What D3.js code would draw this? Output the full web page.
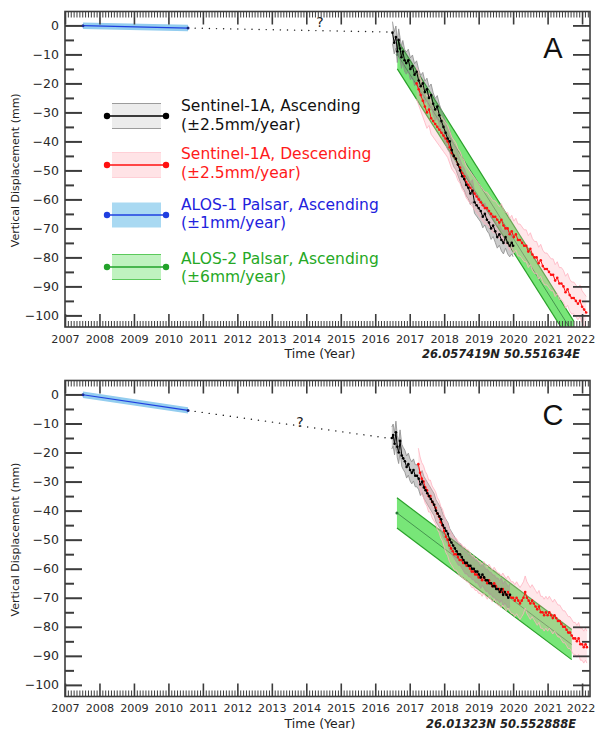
<!DOCTYPE html>
<html><head><meta charset="utf-8">
<script src="https://cdn.jsdelivr.net/npm/d3@7"></script>
<style>
body{margin:0;background:#fff;}
svg{display:block;font-family:"DejaVu Sans",Verdana,sans-serif;}
</style></head><body>
<svg id="chart" width="595" height="730"></svg>
<script>
// ---------- Panel A: 26.057419N 50.551634E ----------
const aAscYears = [2016.50,2016.55,2016.60,2016.64,2016.68,2016.72,2016.76,2016.80,2016.85,2016.90,2016.96,2017.02,2017.08,2017.14,2017.20,2017.26,2017.32,2017.38,2017.44,2017.50,2017.56,2017.62,2017.68,2017.74,2017.80,2017.86,2017.92,2017.98,2018.04,2018.10,2018.16,2018.22,2018.28,2018.34,2018.40,2018.46,2018.52,2018.58,2018.64,2018.70,2018.76,2018.82,2018.88,2018.94,2019.00,2019.06,2019.12,2019.18,2019.24,2019.30,2019.36,2019.42,2019.48,2019.54,2019.60,2019.66,2019.72,2019.78,2019.84,2019.90,2019.96,2020.00];
const aAscValues = [-2.5,-6,-4,-9,-5,-8,-11,-9,-12,-13,-12,-15,-14,-17,-16,-19,-21,-20,-23,-22,-25,-24,-27,-29,-28,-31,-33,-35,-37,-39,-40,-43,-45,-46,-48,-50,-52,-53,-55,-56,-58,-57,-61,-62,-63,-64,-66,-65,-67,-68,-70,-69,-71,-73,-72,-74,-75,-73,-75,-76,-75,-76];

const aDescYears = [2017.20,2017.26,2017.32,2017.38,2017.44,2017.50,2017.56,2017.62,2017.68,2017.74,2017.80,2017.86,2017.92,2017.98,2018.04,2018.10,2018.16,2018.22,2018.28,2018.34,2018.40,2018.46,2018.52,2018.58,2018.64,2018.70,2018.76,2018.82,2018.88,2018.94,2019.00,2019.06,2019.12,2019.18,2019.24,2019.30,2019.36,2019.42,2019.48,2019.54,2019.60,2019.66,2019.72,2019.78,2019.84,2019.90,2019.96,2020.02,2020.08,2020.14,2020.20,2020.26,2020.32,2020.38,2020.44,2020.50,2020.56,2020.62,2020.68,2020.74,2020.80,2020.86,2020.92,2020.98,2021.04,2021.10,2021.16,2021.22,2021.28,2021.34,2021.40,2021.46,2021.52,2021.58,2021.64,2021.70,2021.76,2021.82,2021.88,2021.94,2022.00,2022.06,2022.12];
const aDescValues = [-20,-22,-24,-26,-28,-30,-29,-32,-33,-34,-35,-36,-37,-38,-39,-40,-42,-44,-45,-46,-48,-49,-51,-52,-54,-55,-56,-57,-58,-59,-60,-61,-62,-63,-63,-64,-65,-66,-66,-67,-68,-67,-69,-70,-70,-72,-71,-73,-72,-74,-74,-75,-76,-76,-78,-77,-79,-80,-80,-82,-81,-83,-84,-84,-85,-86,-86,-88,-87,-89,-89,-90,-92,-91,-93,-94,-94,-95,-96,-95,-97,-98,-99];

const aAlos1Years = [2007.52, 2010.57];
const aAlos1Values = [-0.1, -0.9];
const aGapYears = [2010.57, 2016.48];
const aGapValues = [-0.9, -2.3];

const aAlos2Years  = [2016.64, 2021.76];
const aAlos2Upper  = [-5, -102];
const aAlos2Lower  = [-15, -111];
const aAlos2Center = [-10, -106.5];

// ---------- Panel C: 26.01323N 50.552888E ----------
const cAscYears = [2016.48,2016.52,2016.56,2016.60,2016.64,2016.68,2016.72,2016.77,2016.81,2016.86,2016.91,2016.96,2017.01,2017.06,2017.11,2017.16,2017.21,2017.26,2017.31,2017.36,2017.41,2017.46,2017.51,2017.56,2017.61,2017.66,2017.71,2017.76,2017.81,2017.86,2017.91,2017.96,2018.01,2018.06,2018.11,2018.16,2018.21,2018.26,2018.31,2018.36,2018.41,2018.46,2018.51,2018.56,2018.61,2018.66,2018.71,2018.76,2018.81,2018.86,2018.91,2018.96,2019.01,2019.06,2019.11,2019.16,2019.21,2019.26,2019.31,2019.36,2019.41,2019.46,2019.51,2019.56,2019.61,2019.66,2019.71,2019.76,2019.81,2019.86,2019.91];
const cAscValues = [-15,-14,-17,-13,-18,-20,-16,-21,-22,-23,-25,-24,-26,-27,-26,-28,-28,-29,-31,-30,-32,-33,-34,-35,-36,-37,-38,-40,-41,-42,-43,-45,-46,-47,-48,-50,-51,-52,-53,-54,-55,-55,-56,-57,-58,-58,-59,-59,-60,-60,-61,-61,-62,-63,-62,-63,-64,-64,-65,-65,-66,-66,-67,-67,-68,-67,-69,-68,-69,-70,-69];

const cDescYears = [2017.25,2017.30,2017.35,2017.40,2017.45,2017.50,2017.55,2017.60,2017.65,2017.70,2017.75,2017.80,2017.85,2017.90,2017.95,2018.00,2018.05,2018.10,2018.15,2018.20,2018.25,2018.30,2018.35,2018.40,2018.45,2018.50,2018.55,2018.60,2018.65,2018.70,2018.75,2018.80,2018.85,2018.90,2018.95,2019.00,2019.05,2019.10,2019.15,2019.20,2019.25,2019.30,2019.35,2019.40,2019.45,2019.50,2019.55,2019.60,2019.65,2019.70,2019.75,2019.80,2019.85,2019.90,2019.95,2020.00,2020.05,2020.10,2020.15,2020.20,2020.25,2020.30,2020.35,2020.40,2020.45,2020.50,2020.55,2020.60,2020.65,2020.70,2020.75,2020.80,2020.85,2020.90,2020.95,2021.00,2021.05,2021.10,2021.15,2021.20,2021.25,2021.30,2021.35,2021.40,2021.45,2021.50,2021.55,2021.60,2021.65,2021.70,2021.75,2021.80,2021.85,2021.90,2021.95,2022.00,2022.05,2022.10,2022.14];
const cDescValues = [-24,-27,-29,-30,-32,-33,-35,-35,-37,-38,-39,-41,-42,-44,-45,-47,-49,-50,-52,-53,-54,-55,-55,-56,-57,-57,-58,-58,-59,-59,-60,-61,-61,-62,-62,-63,-63,-64,-63,-64,-65,-64,-65,-66,-65,-66,-67,-67,-68,-67,-68,-69,-68,-69,-70,-70,-71,-70,-71,-72,-71,-70,-68,-70,-71,-72,-71,-72,-73,-74,-73,-75,-75,-76,-75,-76,-75,-76,-77,-76,-77,-78,-78,-79,-80,-80,-81,-82,-82,-83,-84,-84,-85,-84,-86,-86,-87,-86,-87];

const cAlos1Years = [2007.52, 2010.57];
const cAlos1Values = [-0.1, -5.5];
const cGapYears = [2010.57, 2016.46];
const cGapValues = [-5.5, -15.2];

const cAlos2Years  = [2016.63, 2021.70];
const cAlos2Upper  = [-35.6, -80.9];
const cAlos2Lower  = [-46.0, -91.3];
const cAlos2Center = [-40.8, -86.1];

// Uncertainty half-widths of the Sentinel-1A and ALOS-1 bands (mm)
const ascHalfWidth = 3.8;
const descHalfWidth = 5.5;
const alos1HalfWidth = 1.1;

// Axis ticks
const yearTicks = d3.range(2007, 2023);
const mmMajorTicks = d3.range(-100, 1, 10);
const mmMinorTicks = d3.range(-95, 1, 10);

const legendEntries = [
  {line1: "Sentinel-1A, Ascending",   line2: "(±2.5mm/year)", key: "asc"},
  {line1: "Sentinel-1A, Descending",  line2: "(±2.5mm/year)", key: "desc"},
  {line1: "ALOS-1 Palsar, Ascending", line2: "(±1mm/year)",   key: "alos1"},
  {line1: "ALOS-2 Palsar, Ascending", line2: "(±6mm/year)",   key: "alos2"}
];

// ---------- styles ----------
const style = {
  asc:   {line: "#000000", fill: "rgba(110,110,110,0.36)", edge: "#8c8c8c", legendFill: "#ececec", text: "#111111"},
  desc:  {line: "#ff1010", fill: "rgba(255,175,185,0.30)", edge: "#ffb3c0", legendFill: "#ffe3e6", text: "#ff1a1a"},
  alos1: {line: "#1f3fe0", fill: "#93cdef", edge: "#93cdef", legendFill: "#a9d9f2", text: "#2222dd"},
  alos2: {line: "#2a9a3a", fill: "#78e678", edge: "#2aa02a", legendFill: "#bff2bf", text: "#25a825"}
};
const axisColor = "#3c3c3c";

const svg = d3.select("#chart");
const x = d3.scaleLinear().domain([2007, 2022.23]).range([65, 590]);

const zip = (ys, vs) => ys.map((t, i) => ({t, v: vs[i]}));

const panels = [
  {top: 11.5, bottom: 327, label: "A", coord: "26.057419N  50.551634E",
   asc: zip(aAscYears, aAscValues), desc: zip(aDescYears, aDescValues),
   alos1: zip(aAlos1Years, aAlos1Values), gap: zip(aGapYears, aGapValues),
   alos2: {years: aAlos2Years, upper: aAlos2Upper, lower: aAlos2Lower, center: aAlos2Center},
   qx: 320, qy: 27, labelBase: 58, legend: true},
  {top: 380.5, bottom: 696.5, label: "C", coord: "26.01323N  50.552888E",
   asc: zip(cAscYears, cAscValues), desc: zip(cDescYears, cDescValues),
   alos1: zip(cAlos1Years, cAlos1Values), gap: zip(cGapYears, cGapValues),
   alos2: {years: cAlos2Years, upper: cAlos2Upper, lower: cAlos2Lower, center: cAlos2Center},
   qx: 300, qy: 427, labelBase: 425, legend: false}
];

panels.forEach((p, pi) => {
  const y = d3.scaleLinear().domain([-104, 4.8]).range([p.bottom, p.top]);
  const g = svg.append("g");
  const clipId = "clip" + pi;
  svg.append("clipPath").attr("id", clipId).append("rect")
    .attr("x", 65).attr("y", p.top).attr("width", 525).attr("height", p.bottom - p.top);
  const plot = g.append("g").attr("clip-path", `url(#${clipId})`);

  const line = d3.line().x(d => x(d.t)).y(d => y(d.v));

  // ALOS-2 band
  const a2 = p.alos2;
  const upperPts = a2.years.map((t, i) => [x(t), y(a2.upper[i])]);
  const lowerPts = a2.years.map((t, i) => [x(t), y(a2.lower[i])]).reverse();
  plot.append("path").attr("d", "M" + upperPts.concat(lowerPts).join("L") + "Z")
    .attr("fill", style.alos2.fill).attr("stroke", "none");
  [a2.upper, a2.lower].forEach(arr => {
    plot.append("path").attr("d", line(zip(a2.years, arr)))
      .attr("fill", "none").attr("stroke", style.alos2.edge).attr("stroke-width", 1.2);
  });
  plot.append("path").attr("d", line(zip(a2.years, a2.center)))
    .attr("fill", "none").attr("stroke", "#3f8a4a").attr("stroke-width", 0.9);
  plot.append("circle").attr("cx", x(a2.years[0])).attr("cy", y(a2.center[0]))
    .attr("r", 1.5).attr("fill", "#2a7a3a");

  // Sentinel-1A bands
  const band = (data, hw, st) => {
    const area = d3.area().x(d => x(d.t)).y0(d => y(d.v - hw)).y1(d => y(d.v + hw));
    plot.append("path").attr("d", area(data)).attr("fill", st.fill).attr("stroke", "none");
    [hw, -hw].forEach(o => {
      plot.append("path").attr("d", d3.line().x(d => x(d.t)).y(d => y(d.v + o))(data))
        .attr("fill", "none").attr("stroke", st.edge).attr("stroke-width", 0.8);
    });
  };
  band(p.asc, ascHalfWidth, style.asc);
  band(p.desc, descHalfWidth, style.desc);

  // Sentinel-1A series
  const series = (data, st) => {
    plot.append("path").attr("d", line(data)).attr("fill", "none")
      .attr("stroke", st.line).attr("stroke-width", 1);
    plot.selectAll(null).data(data).enter().append("circle")
      .attr("cx", d => x(d.t)).attr("cy", d => y(d.v)).attr("r", 1.3).attr("fill", st.line);
  };
  series(p.desc, style.desc);
  series(p.asc, style.asc);

  // ALOS-1 band and line
  const a1area = d3.area().x(d => x(d.t)).y0(d => y(d.v - alos1HalfWidth)).y1(d => y(d.v + alos1HalfWidth));
  plot.append("path").attr("d", a1area(p.alos1)).attr("fill", style.alos1.fill);
  plot.append("path").attr("d", line(p.alos1)).attr("fill", "none")
    .attr("stroke", style.alos1.line).attr("stroke-width", 1.2);
  plot.selectAll(null).data(p.alos1).enter().append("circle")
    .attr("cx", d => x(d.t)).attr("cy", d => y(d.v)).attr("r", 1.5).attr("fill", "#1a2a9a");

  // Dotted connection between the two epochs
  plot.append("path").attr("d", line(p.gap)).attr("fill", "none")
    .attr("stroke", "#222").attr("stroke-width", 1.4)
    .attr("stroke-dasharray", "0.1 7").attr("stroke-linecap", "round");
  g.append("text").attr("x", p.qx).attr("y", p.qy).attr("text-anchor", "middle")
    .attr("font-size", 14).attr("fill", "#222").text("?");

  // ---- axes ----
  const styleAxis = sel => {
    sel.select(".domain").remove();
    sel.selectAll("line").attr("stroke", axisColor);
    sel.selectAll("text").attr("fill", "#2a2a2a").attr("font-family", '"DejaVu Sans",Verdana,sans-serif');
  };
  const months = d3.range(2007, 2022.23, 1 / 12).filter(m => Math.abs(m - Math.round(m)) > 1e-6);

  // left
  g.append("g").attr("transform", "translate(65,0)")
    .call(d3.axisLeft(y).tickValues(mmMinorTicks).tickSize(-9).tickFormat(""))
    .call(styleAxis).selectAll("line").attr("stroke-width", 2);
  const left = g.append("g").attr("transform", "translate(65,0)")
    .call(d3.axisLeft(y).tickValues(mmMajorTicks).tickSize(-17).tickPadding(6).tickFormat(d3.format("d")))
    .call(styleAxis);
  left.selectAll("line").attr("stroke-width", 2);
  left.selectAll("text").attr("font-size", 12.5);
  // right
  g.append("g").attr("transform", "translate(590,0)")
    .call(d3.axisRight(y).tickValues(mmMinorTicks).tickSize(-8).tickFormat(""))
    .call(styleAxis).selectAll("line").attr("stroke-width", 1.8);
  g.append("g").attr("transform", "translate(590,0)")
    .call(d3.axisRight(y).tickValues(mmMajorTicks).tickSize(-17).tickFormat(""))
    .call(styleAxis).selectAll("line").attr("stroke-width", 1.8);
  // top
  g.append("g").attr("transform", `translate(0,${p.top})`)
    .call(d3.axisTop(x).tickValues(months).tickSize(-6).tickFormat(""))
    .call(styleAxis).selectAll("line").attr("stroke-width", 1);
  g.append("g").attr("transform", `translate(0,${p.top})`)
    .call(d3.axisTop(x).tickValues(yearTicks).tickSize(-13).tickFormat(""))
    .call(styleAxis).selectAll("line").attr("stroke-width", 1.6);
  // bottom
  g.append("g").attr("transform", `translate(0,${p.bottom})`)
    .call(d3.axisBottom(x).tickValues(months).tickSize(-6).tickFormat(""))
    .call(styleAxis).selectAll("line").attr("stroke-width", 1);
  const bottom = g.append("g").attr("transform", `translate(0,${p.bottom})`)
    .call(d3.axisBottom(x).tickValues(yearTicks).tickSize(-13).tickPadding(8).tickFormat(d3.format("d")))
    .call(styleAxis);
  bottom.selectAll("line").attr("stroke-width", 1.6);
  bottom.selectAll("text").attr("font-size", 11.2);
  // keep the last year label inside the page
  bottom.selectAll(".tick").filter(d => d === 2022).select("text").attr("dx", -1.5);

  // frame
  g.append("rect").attr("x", 65).attr("y", p.top).attr("width", 525).attr("height", p.bottom - p.top)
    .attr("fill", "none").attr("stroke", axisColor).attr("stroke-width", 1.6);

  // titles
  const midY = (p.top + p.bottom) / 2 + 1;
  g.append("text").attr("transform", `translate(19,${midY}) rotate(-90)`)
    .attr("text-anchor", "middle").attr("font-size", 11).attr("fill", "#222")
    .text("Vertical Displacement (mm)");
  g.append("text").attr("x", 320).attr("y", p.bottom + 31).attr("text-anchor", "middle")
    .attr("font-size", 12.5).attr("fill", "#222").text("Time (Year)");
  g.append("text").attr("x", 501).attr("y", p.bottom + 31).attr("text-anchor", "middle")
    .attr("font-size", 11.5).attr("font-style", "italic").attr("font-weight", 600)
    .attr("fill", "#222").text(p.coord);
  g.append("text").attr("x", 553).attr("y", p.labelBase).attr("text-anchor", "middle")
    .attr("font-family", '"Liberation Sans",Arial,sans-serif').attr("font-size", 29)
    .attr("fill", "#111").text(p.label);

  // ---- legend ----
  if (p.legend) {
    const centers = [116, 165, 215, 267];
    const base1 = [111, 159, 210, 264];
    const base2 = [130, 178, 228, 282];
    legendEntries.forEach((e, i) => {
      const st = style[e.key];
      const cy = centers[i];
      const lg = g.append("g");
      lg.append("rect").attr("x", 112).attr("y", cy - 12.5).attr("width", 49).attr("height", 25)
        .attr("fill", st.legendFill);
      if (e.key !== "alos1") {
        [cy - 12.5, cy + 12.5].forEach(yy => lg.append("line")
          .attr("x1", 112).attr("x2", 161).attr("y1", yy).attr("y2", yy)
          .attr("stroke", e.key === "asc" ? "#9c9c9c" : e.key === "desc" ? "#ffcfd6" : "#5cc95c")
          .attr("stroke-width", 1.2));
      }
      lg.append("line").attr("x1", 107).attr("x2", 166).attr("y1", cy).attr("y2", cy)
        .attr("stroke", e.key === "alos2" ? "#22a22a" : st.line).attr("stroke-width", 1.5);
      [107, 166].forEach(cx => lg.append("circle").attr("cx", cx).attr("cy", cy).attr("r", 3.2)
        .attr("fill", e.key === "alos2" ? "#22a22a" : st.line));
      lg.append("text").attr("x", 181).attr("y", base1[i]).attr("font-size", 15.5)
        .attr("fill", st.text).text(e.line1);
      lg.append("text").attr("x", 181).attr("y", base2[i]).attr("font-size", 15.5)
        .attr("fill", st.text).text(e.line2);
    });
  }
});
</script>
</body></html>
